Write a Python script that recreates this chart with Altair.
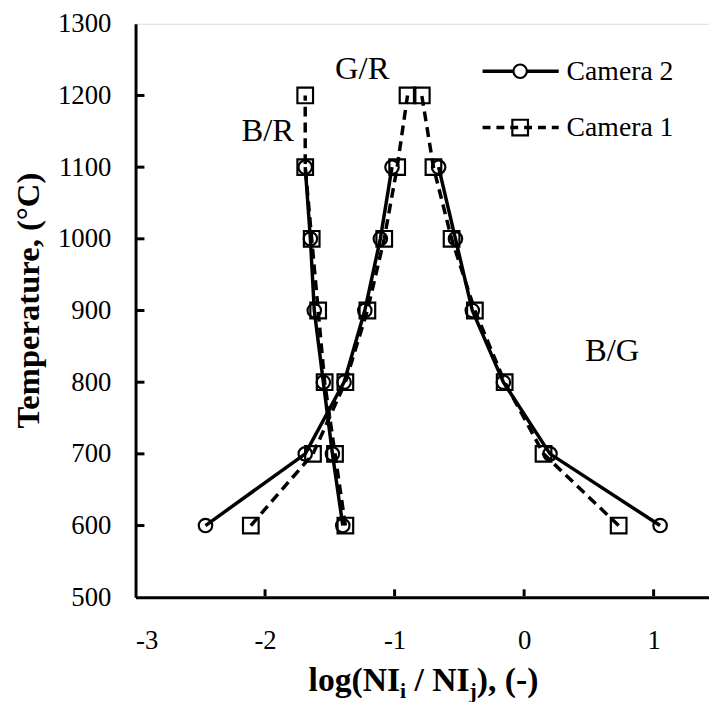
import altair as alt
import pandas as pd

# ---------------- data ----------------
temps_cam2 = [600, 700, 800, 900, 1000, 1100]
temps_cam1 = [600, 700, 800, 900, 1000, 1100, 1200]

cam2_br = [-1.40, -1.48, -1.55, -1.62, -1.65, -1.69]
cam2_gr = [-2.46, -1.69, -1.39, -1.23, -1.11, -1.02]
cam2_bg = [1.05, 0.20, -0.16, -0.40, -0.53, -0.66]

cam1_br = [-1.38, -1.46, -1.54, -1.59, -1.64, -1.69, -1.69]
cam1_gr = [-2.11, -1.63, -1.38, -1.21, -1.08, -0.98, -0.90]
cam1_bg = [0.73, 0.15, -0.15, -0.38, -0.56, -0.70, -0.79]

x_ticks = [-3, -2, -1, 0, 1]
y_ticks = [500, 600, 700, 800, 900, 1000, 1100, 1200, 1300]

annot_text = ["G/R", "B/R", "B/G"]
annot_x = [-1.25, -1.98, 0.68]
annot_y = [1223, 1136, 830]


def long(temps, series, cam):
    rows = []
    for name, vals in series.items():
        for t, v in zip(temps, vals):
            rows.append({"T": t, "v": v, "ratio": name, "camera": cam})
    return pd.DataFrame(rows)


df2 = long(temps_cam2, {"B/R": cam2_br, "G/R": cam2_gr, "B/G": cam2_bg}, "Camera 2")
df1 = long(temps_cam1, {"B/R": cam1_br, "G/R": cam1_gr, "B/G": cam1_bg}, "Camera 1")

# ---------------- layout ----------------
W, H = 580, 580
PX_PER_X = 131.0
XMIN, XMAX = -3, -3 + W / PX_PER_X
YMIN, YMAX = 500, 1300
SERIF = "Liberation Serif"

xs = alt.Scale(domain=[XMIN, XMAX], nice=False, zero=False)
ys = alt.Scale(domain=[YMIN, YMAX], nice=False, zero=False)

x_axis = alt.Axis(values=x_ticks, labelExpr="'' + datum.value", title=None, grid=False,
                  ticks=False, domainColor="black", domainWidth=3,
                  labelFont=SERIF, labelFontSize=27, labelColor="black", labelPadding=31)
y_axis = alt.Axis(values=y_ticks, labelExpr="'' + datum.value", title=None, grid=False,
                  ticks=False, domainColor="black", domainWidth=3,
                  labelFont=SERIF, labelFontSize=27, labelColor="black", labelPadding=25)

X = alt.X("v:Q", scale=xs, axis=x_axis)
Y = alt.Y("T:Q", scale=ys, axis=y_axis)

line1 = alt.Chart(df1).mark_line(color="black", strokeWidth=3.5, strokeDash=[10, 6]).encode(
    x=X, y=Y, detail="ratio:N", order="T:Q")
line2 = alt.Chart(df2).mark_line(color="black", strokeWidth=3.5).encode(
    x=X, y=Y, detail="ratio:N", order="T:Q")
pts1 = alt.Chart(df1).mark_point(shape="square", size=250, filled=False, color="black",
                                 strokeWidth=2.2, opacity=1).encode(x=X, y=Y)
pts2 = alt.Chart(df2).mark_point(shape="circle", size=185, filled=False, color="black",
                                 strokeWidth=2.2, opacity=1).encode(x=X, y=Y)

annot = alt.Chart(pd.DataFrame({"v": annot_x, "T": annot_y, "t": annot_text})).mark_text(
    font=SERIF, fontSize=33, color="black", baseline="alphabetic", align="center").encode(
    x=X, y=Y, text="t:N")

one = pd.DataFrame({"a": [0]})


def xpx(v):
    return (v - XMIN) / (XMAX - XMIN) * W


def ypx(v):
    return (YMAX - v) / (YMAX - YMIN) * H


# inward tick marks (decoration)
deco = []
for t in y_ticks[1:-1]:
    deco.append(alt.Chart(one).mark_rule(color="black", strokeWidth=3).encode(
        x=alt.value(1), x2=alt.value(9), y=alt.value(ypx(t))))
for t in x_ticks[1:]:
    deco.append(alt.Chart(one).mark_rule(color="black", strokeWidth=3).encode(
        x=alt.value(xpx(t)), y=alt.value(H - 1), y2=alt.value(H - 8)))

# legend (drawn by hand)
leg = [
    alt.Chart(one).mark_rule(color="black", strokeWidth=3.5).encode(
        x=alt.value(351), x2=alt.value(428), y=alt.value(48)),
    alt.Chart(one).mark_point(shape="circle", size=185, filled=True, fill="white",
                              stroke="black", strokeWidth=2.2, opacity=1).encode(
        x=alt.value(389), y=alt.value(48)),
    alt.Chart(one).mark_rule(color="black", strokeWidth=3.5, strokeDash=[8, 6]).encode(
        x=alt.value(351), x2=alt.value(428), y=alt.value(105)),
    alt.Chart(one).mark_point(shape="square", size=250, filled=False,
                              stroke="black", strokeWidth=2.2, opacity=1).encode(
        x=alt.value(389), y=alt.value(105)),
    alt.Chart(one).mark_text(text="Camera 2", font=SERIF, fontSize=28, color="black",
                             align="left", baseline="alphabetic").encode(
        x=alt.value(436), y=alt.value(57)),
    alt.Chart(one).mark_text(text="Camera 1", font=SERIF, fontSize=28, color="black",
                             align="left", baseline="alphabetic").encode(
        x=alt.value(436), y=alt.value(114)),
]

# axis titles (text marks so the subscripts can be drawn)
ytitle = alt.Chart(one).mark_text(text="Temperature, (°C)", font=SERIF, fontSize=33,
                                  fontWeight="bold", color="black", angle=270,
                                  align="center", baseline="middle").encode(
    x=alt.value(-108), y=alt.value(280))

# Times-Bold advance widths (per 1000 em)
adv = {"l": 278, "o": 500, "g": 500, "(": 333, "N": 722, "I": 389, "i": 278, " ": 250,
       "/": 278, "j": 333, ")": 333, ",": 250, "-": 333}
SP = 250 * 34 / 1000.0
# (text, font size, baseline shift, gap before)
pieces = [("log(NI", 34, 0, 0), ("i", 22, 7, 0), ("/", 34, 0, SP), ("NI", 34, 0, SP),
          ("j", 22, 7, 0), ("), (-)", 34, 0, 0)]
xpos = 312 - 137
base = 675
xt_layers = []
for txt, fs, dy, gap in pieces:
    xpos += gap
    xt_layers.append(alt.Chart(one).mark_text(text=txt, font=SERIF, fontSize=fs,
                                              fontWeight="bold", color="black",
                                              align="left", baseline="alphabetic").encode(
        x=alt.value(xpos), y=alt.value(base + dy)))
    xpos += sum(adv[c] for c in txt) * fs / 1000.0

chart = alt.layer(line1, line2, pts1, pts2, annot, *deco, *leg, ytitle, *xt_layers).properties(
    width=W, height=H,
    autosize=alt.AutoSizeParams(type="none"),
    padding={"left": 129, "top": 12, "right": 0, "bottom": 102},
).configure_view(stroke="black", strokeWidth=3).configure(background="white")

chart.save("out.html", embed_options={"renderer": "svg", "actions": False})
